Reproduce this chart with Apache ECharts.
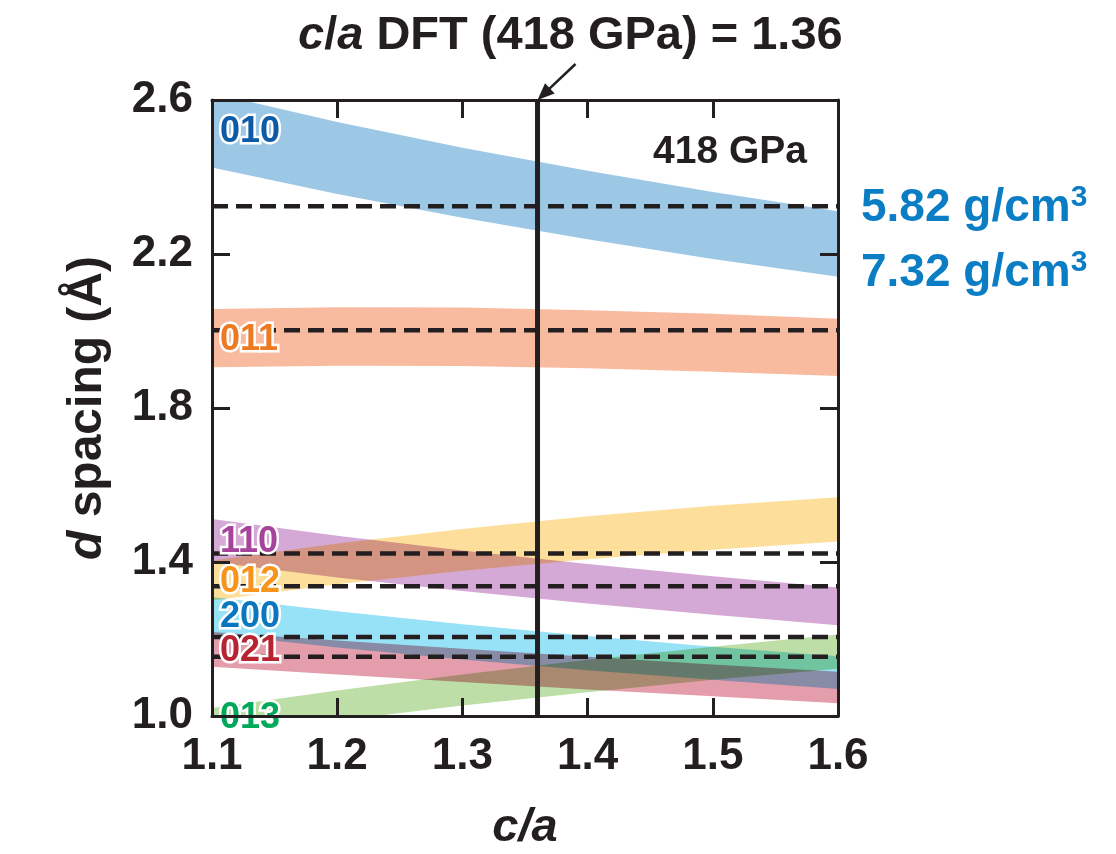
<!DOCTYPE html>
<html>
<head>
<meta charset="utf-8">
<script src="https://cdn.jsdelivr.net/npm/echarts@6/dist/echarts.min.js"></script>
<style>
  html, body { margin: 0; padding: 0; background: #fff; }
  #chart { width: 1116px; height: 854px; }
</style>
</head>
<body>
<div id="chart"></div>
<script>
// c/a values at which each reflection band is sampled
const caRatio = [1.1, 1.2, 1.3, 1.4, 1.5, 1.6];

// d spacings (Å): "Hi" edge is the 5.82 g/cm3 density, "Lo" edge the 7.32 g/cm3 density
const d010Hi = [2.618, 2.543, 2.476, 2.416, 2.361, 2.311];
const d010Lo = [2.425, 2.356, 2.294, 2.238, 2.187, 2.141];
const d011Hi = [2.057, 2.062, 2.061, 2.054, 2.045, 2.032];
const d011Lo = [1.906, 1.910, 1.909, 1.903, 1.894, 1.883];
const d110Hi = [1.512, 1.468, 1.430, 1.395, 1.363, 1.334];
const d110Lo = [1.400, 1.360, 1.325, 1.292, 1.263, 1.236];
const d012Hi = [1.404, 1.448, 1.486, 1.519, 1.546, 1.568];
const d012Lo = [1.300, 1.342, 1.377, 1.407, 1.432, 1.453];
const d200Hi = [1.309, 1.272, 1.238, 1.208, 1.180, 1.155];
const d200Lo = [1.213, 1.178, 1.147, 1.119, 1.094, 1.070];
const d021Hi = [1.218, 1.196, 1.175, 1.154, 1.134, 1.115];
const d021Lo = [1.128, 1.108, 1.088, 1.069, 1.051, 1.033];
const d013Hi = [1.021, 1.066, 1.108, 1.146, 1.180, 1.212];
const d013Lo = [0.946, 0.988, 1.027, 1.062, 1.094, 1.123];

const reflections = ['010', '011', '110', '012', '200', '021', '013'];

// measured d spacings (dashed lines)
const observedD = [2.324, 2.002, 1.422, 1.337, 1.205, 1.154];

// DFT c/a at 418 GPa
const caDFT = 1.36;
const pressureLabel = '418 GPa';
const densities = ['5.82', '7.32'];

const xTicks = [1.1, 1.2, 1.3, 1.4, 1.5, 1.6];
const yTicks = [1.0, 1.4, 1.8, 2.2, 2.6];
const xMin = 1.1, xMax = 1.6, yMin = 1.0, yMax = 2.6;

// styling
const FONT = 'Liberation Sans';
const INK = '#231f20';
const bandFill = ['#9cc7e5', '#f9bb9f', '#d5a9d5', '#fddf9b', '#97e2f6', '#e49dab', '#bddea6'];
const bandInk  = ['#0d5aa7', '#ec7a22', '#a6439a', '#f7941d', '#0a76bf', '#b52430', '#00a859'];
const densityInk = '#0b7dc4';
const TOP_LAYER = 20;

const bandHi = [d010Hi, d011Hi, d110Hi, d012Hi, d200Hi, d021Hi, d013Hi];
const bandLo = [d010Lo, d011Lo, d110Lo, d012Lo, d200Lo, d021Lo, d013Lo];

// each band is drawn as one closed polygon on its own layer; layers are multiplied together
function bandRenderer(k) {
  const hi = bandHi[k], lo = bandLo[k];
  return function (params, api) {
    if (params.dataIndex !== 0) return null;
    const upper = caRatio.map((x, i) => api.coord([x, hi[i]]));
    const lower = caRatio.map((x, i) => api.coord([x, lo[i]])).reverse();
    const cs = params.coordSys;
    return {
      type: 'polygon',
      shape: { points: upper.concat(lower) },
      style: { fill: bandFill[k] },
      clipPath: { type: 'rect', shape: { x: cs.x, y: cs.y, width: cs.width, height: cs.height } }
    };
  };
}

const bandSeries = reflections.map((name, k) => ({
  type: 'custom',
  name: name,
  zlevel: k + 1,
  xAxisIndex: 0,
  yAxisIndex: 0,
  silent: true,
  renderItem: bandRenderer(k),
  encode: { x: 0, y: [1, 2] },
  data: caRatio.map((x, i) => [x, bandLo[k][i], bandHi[k][i]])
}));

// reflection labels sit at the band centre on the left edge (kept inside the y range)
const labelSeries = {
  type: 'custom',
  zlevel: TOP_LAYER,
  z: 5,
  xAxisIndex: 0,
  yAxisIndex: 0,
  silent: true,
  encode: { x: 0, y: 1 },
  data: reflections.map((n, k) => [caRatio[0], Math.max((bandHi[k][0] + bandLo[k][0]) / 2, yMin)]),
  renderItem: function (params, api) {
    const k = params.dataIndex;
    const p = api.coord([api.value(0), api.value(1)]);
    return {
      type: 'text',
      x: p[0] + 8,
      y: p[1] + 2,
      style: {
        text: reflections[k],
        fill: bandInk[k],
        stroke: '#ffffff',
        lineWidth: 5,
        strokeFirst: true,
        fontSize: 36,
        fontWeight: 'bold',
        fontFamily: FONT,
        align: 'left',
        verticalAlign: 'middle'
      }
    };
  }
};

const dashedSeries = observedD.map(v => ({
  type: 'line',
  zlevel: TOP_LAYER,
  xAxisIndex: 0,
  yAxisIndex: 0,
  silent: true,
  symbol: 'none',
  lineStyle: { color: INK, width: 4.5, type: [16, 8] },
  data: [[xMin, v], [xMax, v]]
}));

const dftSeries = {
  type: 'line',
  zlevel: TOP_LAYER,
  xAxisIndex: 0,
  yAxisIndex: 0,
  silent: true,
  symbol: 'none',
  lineStyle: { color: INK, width: 5 },
  data: [[caDFT, yMin], [caDFT, yMax]]
};

const tickFont = { fontSize: 44, fontWeight: 'bold', fontFamily: FONT, color: INK };

function valueAxis(pos, min, max, ticks, showLabel, extra, labelPad) {
  return Object.assign({
    type: 'value',
    position: pos,
    min: min,
    max: max,
    zlevel: TOP_LAYER,
    z: 10,
    splitLine: { show: false },
    axisLine: { show: true, onZero: false, lineStyle: { color: INK, width: 3 } },
    axisTick: { show: true, inside: true, length: 18, customValues: ticks, lineStyle: { color: INK, width: 3 } },
    axisLabel: Object.assign({ show: showLabel, customValues: ticks, margin: 19,
      padding: labelPad || 0,
      formatter: v => v.toFixed(1) }, tickFont)
  }, extra || {});
}

const chart = echarts.init(document.getElementById('chart'), null, { renderer: 'canvas' });

const titleStyle = { fontSize: 47, fontWeight: 'bold', fontFamily: FONT, color: INK };
const densityStyle = {
  fontSize: 46, fontWeight: 'bold', fontFamily: FONT, color: densityInk, lineHeight: 50,
  rich: {
    s: { fontSize: 30, fontWeight: 'bold', fontFamily: FONT, color: densityInk, lineHeight: 28, verticalAlign: 'top' }
  }
};

chart.setOption({
  backgroundColor: '#ffffff',
  animation: false,
  title: [
    {
      text: '{i|c}/{i|a} DFT (' + pressureLabel + ') = ' + caDFT.toFixed(2),
      left: 298, top: 13, padding: 0, zlevel: TOP_LAYER,
      textStyle: Object.assign({}, titleStyle, {
        rich: { i: Object.assign({}, titleStyle, { fontStyle: 'italic' }) }
      })
    },
    {
      text: pressureLabel,
      right: 309, top: 133, padding: 0, zlevel: TOP_LAYER,
      textStyle: { fontSize: 39, fontWeight: 'bold', fontFamily: FONT, color: INK }
    },
    {
      text: densities[0] + ' g/cm{s|3}',
      left: 861, top: 183, padding: 0, zlevel: TOP_LAYER,
      textStyle: densityStyle
    },
    {
      text: densities[1] + ' g/cm{s|3}',
      left: 861, top: 248, padding: 0, zlevel: TOP_LAYER,
      textStyle: densityStyle
    }
  ],
  grid: { left: 212, right: 278, top: 100, bottom: 138, containLabel: false, outerBoundsMode: 'none' },
  xAxis: [
    valueAxis('bottom', xMin, xMax, xTicks, true, {
      name: '{i|c/a}',
      nameLocation: 'middle',
      nameGap: 89,
      nameTextStyle: { rich: { i: { fontSize: 47, fontWeight: 'bold', fontStyle: 'italic', fontFamily: FONT, color: INK } } }
    }),
    valueAxis('top', xMin, xMax, xTicks, false)
  ],
  yAxis: [
    valueAxis('left', yMin, yMax, yTicks, true, {
      name: '{i|d} spacing (Å)',
      nameLocation: 'middle',
      nameRotate: 90,
      nameGap: 100,
      nameTextStyle: {
        fontSize: 48, fontWeight: 'bold', fontFamily: FONT, color: INK,
        rich: {
          i: { fontSize: 48, fontWeight: 'bold', fontStyle: 'italic', fontFamily: FONT, color: INK }
        }
      }
    }, [9, 0, 0, 0]),
    valueAxis('right', yMin, yMax, yTicks, false)
  ],
  series: bandSeries.concat([labelSeries], dashedSeries, [dftSeries])
});

// overlapping bands darken each other: multiply every band layer onto the ones below
chart.getDom().querySelectorAll('canvas').forEach(function (cv) {
  const id = cv.getAttribute('data-zr-dom-id') || '';
  const lvl = parseInt(id.replace('zr_', ''), 10);
  if (lvl >= 1 && lvl <= reflections.length) cv.style.mixBlendMode = 'multiply';
});

// arrow pointing from the title down to the top of the DFT line
const tip = chart.convertToPixel({ xAxisIndex: 0, yAxisIndex: 0 }, [caDFT, yMax]);
const tail = [tip[0] + 38, tip[1] - 36];
const dx = tip[0] - tail[0], dy = tip[1] - tail[1];
const len = Math.sqrt(dx * dx + dy * dy);
const ux = dx / len, uy = dy / len;
const headLen = 17, headHalf = 7;
const base = [tip[0] - ux * headLen, tip[1] - uy * headLen];
chart.setOption({
  graphic: [
    {
      type: 'line', zlevel: TOP_LAYER, z: 20,
      shape: { x1: tail[0], y1: tail[1], x2: base[0] + ux * 2, y2: base[1] + uy * 2 },
      style: { stroke: INK, lineWidth: 2.5 }
    },
    {
      type: 'polygon', zlevel: TOP_LAYER, z: 20,
      shape: { points: [
        [tip[0], tip[1]],
        [base[0] - uy * headHalf, base[1] + ux * headHalf],
        [base[0] + uy * headHalf, base[1] - ux * headHalf]
      ] },
      style: { fill: INK }
    }
  ]
});
</script>
</body>
</html>
